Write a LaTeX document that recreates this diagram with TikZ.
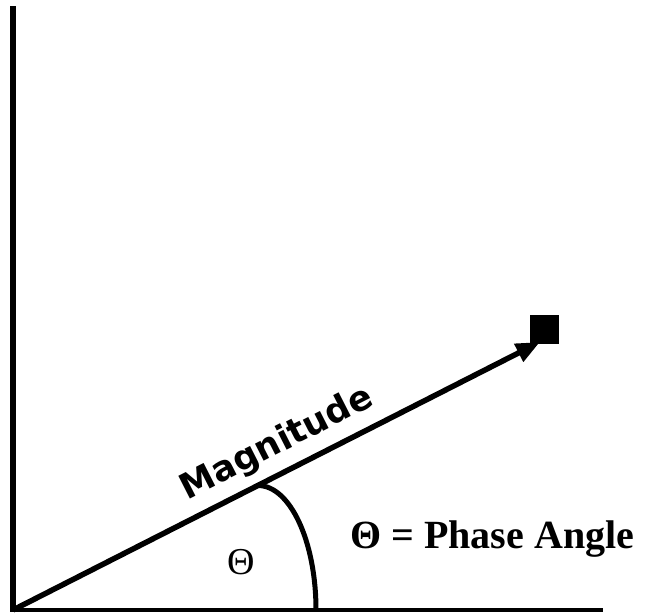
\documentclass[tikz,border=0pt]{standalone}
\usepackage{fontspec}
\setmainfont{Liberation Serif}
\newfontfamily\magfont{DejaVu Sans}
\usetikzlibrary{arrows.meta}
\tikzset{
  axisline/.style={line width=6pt, line cap=butt},
  baseline axis/.style={line width=4pt},
  vecline/.style={line width=5.5pt, -{Triangle[length=24pt,width=19pt]}},
  arcline/.style={line width=5pt},
  lbl/.style={inner sep=0pt, text=black}
}
\begin{document}
\begin{tikzpicture}[x=1pt,y=1pt]
\useasboundingbox (0,0) rectangle (652,613);
\coordinate (O) at (13,3);
\coordinate (top) at (13,607);
\coordinate (xend) at (603,3);
\coordinate (tip) at (540,271);
\coordinate (arcstart) at (258,127.5);
\node[fill=black, minimum size=29pt, inner sep=0pt] (sq) at (544.5,283.5) {};
\draw[axisline] (O) -- (top);
\draw[baseline axis] ([xshift=-3pt]O) -- (xend);
\draw[vecline] (O) -- (tip);
\draw[arcline] (arcstart) arc[start angle=90, end angle=0, x radius=58, y radius=124.5];
\node[lbl, rotate=27, font=\magfont\bfseries\fontsize{35}{38}\selectfont] (mag) at (277,169) {Magnitude};
\node[lbl, font=\fontsize{38}{42}\selectfont] (theta) at (241,51) {Θ};
\node[lbl, anchor=base west, font=\bfseries\fontsize{40}{44}\selectfont] (phase) at (350,65) {Θ = Phase Angle};
\end{tikzpicture}
\end{document}
